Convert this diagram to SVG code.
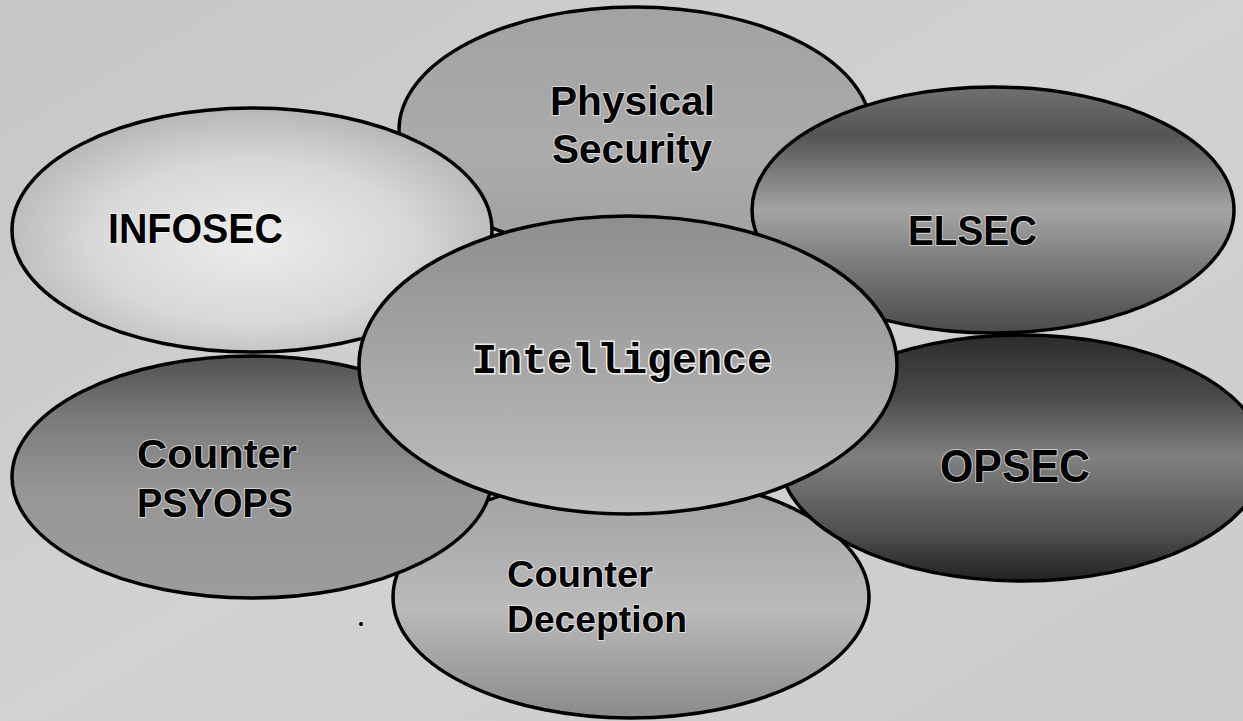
<svg xmlns="http://www.w3.org/2000/svg" width="1243" height="721" viewBox="0 0 1243 721">
<style>
.oval{stroke:#000;stroke-width:3.5}
.lbl{font-family:"Liberation Sans",Arial,sans-serif;font-weight:bold;fill:#000;stroke:#fff;stroke-width:2;stroke-opacity:0.6;paint-order:stroke}
.mono{font-family:"Liberation Mono","Courier New",monospace;font-weight:bold;fill:#000;stroke:#fff;stroke-width:3;stroke-opacity:0.8;paint-order:stroke}
</style>
<defs>
<linearGradient id="bg" x1="0" y1="0" x2="1" y2="1">
<stop offset="0" stop-color="#c6c6c6"/><stop offset="0.5" stop-color="#d2d2d2"/><stop offset="1" stop-color="#cbcbcb"/>
</linearGradient>
<linearGradient id="gPhys" x1="0" y1="0" x2="0" y2="1">
<stop offset="0" stop-color="#a2a2a2"/><stop offset="0.6" stop-color="#ababab"/><stop offset="1" stop-color="#a0a0a0"/>
</linearGradient>
<radialGradient id="gInfo" cx="0.5" cy="0.55" r="0.55">
<stop offset="0" stop-color="#ececec"/><stop offset="0.6" stop-color="#d8d8d8"/><stop offset="1" stop-color="#b6b6b6"/>
</radialGradient>
<linearGradient id="gEl" x1="0" y1="0" x2="0" y2="1">
<stop offset="0" stop-color="#707070"/><stop offset="0.2" stop-color="#545454"/><stop offset="0.5" stop-color="#a4a4a4"/><stop offset="0.8" stop-color="#6c6c6c"/><stop offset="1" stop-color="#4a4a4a"/>
</linearGradient>
<linearGradient id="gOp" x1="0" y1="0" x2="0" y2="1">
<stop offset="0" stop-color="#2c2c2c"/><stop offset="0.25" stop-color="#4a4a4a"/><stop offset="0.5" stop-color="#808080"/><stop offset="0.8" stop-color="#505050"/><stop offset="1" stop-color="#222"/>
</linearGradient>
<linearGradient id="gPsy" x1="0" y1="0" x2="0" y2="1">
<stop offset="0" stop-color="#505050"/><stop offset="0.25" stop-color="#7a7a7a"/><stop offset="0.55" stop-color="#969696"/><stop offset="1" stop-color="#9c9c9c"/>
</linearGradient>
<linearGradient id="gDec" x1="0" y1="0" x2="0" y2="1">
<stop offset="0" stop-color="#a0a0a0"/><stop offset="0.55" stop-color="#bababa"/><stop offset="1" stop-color="#8a8a8a"/>
</linearGradient>
<linearGradient id="gInt" x1="0" y1="0" x2="0" y2="1">
<stop offset="0" stop-color="#8e8e8e"/><stop offset="0.5" stop-color="#a6a6a6"/><stop offset="1" stop-color="#c0c0c0"/>
</linearGradient>
</defs>
<rect x="0" y="0" width="1243" height="721" fill="url(#bg)"/>
<g id="connectors"></g>
<g id="counter-deception">
<ellipse class="oval" cx="631" cy="597" rx="238" ry="121" fill="url(#gDec)"/>
<text class="lbl" x="507" y="587" font-size="37" textLength="146" lengthAdjust="spacingAndGlyphs">Counter</text>
<text class="lbl" x="507" y="632" font-size="37" textLength="180" lengthAdjust="spacingAndGlyphs">Deception</text>
</g>
<g id="physical-security">
<ellipse class="oval" cx="635" cy="130" rx="236" ry="123" fill="url(#gPhys)"/>
<text class="lbl" x="550" y="115" font-size="41" textLength="165" lengthAdjust="spacingAndGlyphs">Physical</text>
<text class="lbl" x="552" y="163" font-size="41" textLength="160" lengthAdjust="spacingAndGlyphs">Security</text>
</g>
<g id="counter-psyops">
<ellipse class="oval" cx="252" cy="477" rx="240" ry="121" fill="url(#gPsy)"/>
<text class="lbl" x="137" y="468" font-size="40" textLength="160" lengthAdjust="spacingAndGlyphs">Counter</text>
<text class="lbl" x="137" y="517" font-size="40" textLength="156" lengthAdjust="spacingAndGlyphs">PSYOPS</text>
</g>
<g id="opsec">
<ellipse class="oval" cx="1022" cy="458" rx="242" ry="123" fill="url(#gOp)"/>
<text class="lbl" x="940" y="482" font-size="46" textLength="150" lengthAdjust="spacingAndGlyphs">OPSEC</text>
</g>
<g id="infosec">
<ellipse class="oval" cx="252" cy="230" rx="240" ry="122" fill="url(#gInfo)"/>
<text class="lbl" x="108" y="243" font-size="42" textLength="175" lengthAdjust="spacingAndGlyphs">INFOSEC</text>
</g>
<g id="elsec">
<ellipse class="oval" cx="993" cy="210" rx="241" ry="123" fill="url(#gEl)"/>
<text class="lbl" x="908" y="245" font-size="43" textLength="129" lengthAdjust="spacingAndGlyphs">ELSEC</text>
</g>
<g id="intelligence">
<ellipse class="oval" cx="628" cy="365" rx="269" ry="149" fill="url(#gInt)"/>
<text class="mono" x="472" y="373" font-size="42" textLength="300" lengthAdjust="spacingAndGlyphs">Intelligence</text>
</g>
<circle cx="361" cy="624" r="2" fill="#000"/>
</svg>
